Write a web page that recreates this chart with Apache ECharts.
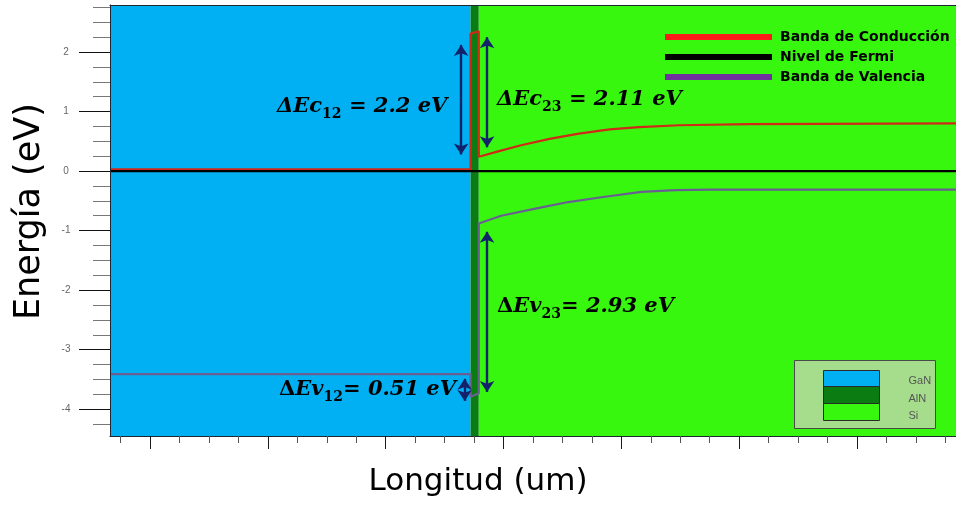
<!DOCTYPE html>
<html>
<head>
<meta charset="utf-8">
<title>Diagrama de bandas GaN / AlN / Si</title>
<script src="https://cdn.jsdelivr.net/npm/echarts@6/dist/echarts.min.js"></script>
<style>
  html, body { margin: 0; padding: 0; background: #fff; }
  #chart { width: 956px; height: 506px; }
</style>
</head>
<body>
<div id="chart"></div>
<script>
// eje x (um) sin etiquetas en el original
var xMin = -0.34, xMax = 6.84;
var xMajor = [0, 1, 2, 3, 4, 5, 6];
var xMinor = [-0.25, 0.25, 0.5, 0.75, 1.25, 1.5, 1.75, 2.25, 2.5, 2.75, 3.25, 3.5, 3.75,
              4.25, 4.5, 4.75, 5.25, 5.5, 5.75, 6.25, 6.5, 6.75];
// eje y (eV)
var yMin = -4.45, yMax = 2.79;
var yMajor = [-4, -3, -2, -1, 0, 1, 2];
var yMinor = [-4.25, -3.75, -3.5, -3.25, -2.75, -2.5, -2.25, -1.75, -1.5, -1.25,
              -0.75, -0.5, -0.25, 0.25, 0.5, 0.75, 1.25, 1.5, 1.75, 2.25, 2.5, 2.75];

// capas
var capas = ['GaN', 'AlN', 'Si'];
var capaInicio = [xMin, 2.72, 2.79];
var capaFin = [2.72, 2.79, xMax];
var capaColor = ['#00b0f2', '#0b7c12', '#38f70e'];

// banda de conduccion
var condX = [xMin, 2.72, 2.72, 2.79, 2.79, 2.97, 3.14, 3.39, 3.64, 3.90, 4.15, 4.49, 5.09, xMax];
var condE = [0.03, 0.03, 2.31, 2.35, 0.24, 0.34, 0.43, 0.54, 0.63, 0.70, 0.74, 0.77, 0.79, 0.80];
// nivel de Fermi
var fermiX = [xMin, xMax];
var fermiE = [0, 0];
// banda de valencia
var valX = [xMin, 2.72, 2.72, 2.79, 2.79, 2.98, 3.27, 3.55, 3.83, 4.17, 4.46, 4.75, xMax];
var valE = [-3.41, -3.41, -3.79, -3.73, -0.88, -0.75, -0.63, -0.52, -0.44, -0.35, -0.32, -0.31, -0.31];

// flechas de los saltos de banda
var flechaX = [2.64, 2.86, 2.86, 2.67];
var flechaArriba = [2.12, 2.25, -1.02, -3.49];
var flechaAbajo = [0.28, 0.40, -3.71, -3.86];

function pares(xs, ys) {
  return xs.map(function (x, i) { return [x, ys[i]]; });
}

var chart = echarts.init(document.getElementById('chart'));

var areas = capas.map(function (c, i) {
  return [{ name: c, xAxis: capaInicio[i], itemStyle: { color: capaColor[i], opacity: 1 } },
          { xAxis: capaFin[i] }];
});
var flechas = flechaX.map(function (x, i) {
  return [{ coord: [x, flechaArriba[i]] }, { coord: [x, flechaAbajo[i]] }];
});

var ejeBase = {
  type: 'value', min: xMin, max: xMax, z: 6,
  splitLine: { show: false },
  axisLabel: { show: false }
};
var ejeYBase = {
  type: 'value', min: yMin, max: yMax, position: 'left', z: 6,
  splitLine: { show: false }
};

var tinta = '#0a0a0a';
var rich = {
  i: { fontFamily: 'DejaVu Serif', fontWeight: 'bold', fontStyle: 'italic', fontSize: 21, lineHeight: 30, color: tinta },
  n: { fontFamily: 'DejaVu Serif', fontWeight: 'bold', fontSize: 21, lineHeight: 30, color: tinta },
  s: { fontFamily: 'DejaVu Serif', fontWeight: 'bold', fontSize: 14, lineHeight: 30, verticalAlign: 'bottom', color: tinta }
};

var option = {
  animation: false,
  backgroundColor: '#ffffff',
  grid: { left: 110, top: 5, right: 0, bottom: 70 },
  legend: {
    orient: 'vertical', left: 660, top: 25,
    icon: 'rect', itemWidth: 107, itemHeight: 6, itemGap: 6,
    selectedMode: false,
    textStyle: { fontFamily: 'DejaVu Sans', fontWeight: 'bold', fontSize: 14, lineHeight: 14, color: '#000', padding: [0, 0, 0, 3] },
    data: [
      { name: 'Banda de Conducción', itemStyle: { color: '#ff1a1a' } },
      { name: 'Nivel de Fermi', itemStyle: { color: '#000000' } },
      { name: 'Banda de Valencia', itemStyle: { color: '#7030a0' } }
    ]
  },
  xAxis: [
    Object.assign({}, ejeBase, {
      position: 'bottom',
      axisLine: { onZero: false, lineStyle: { color: '#1d2733', width: 1 } },
      axisTick: { customValues: xMajor, length: 13, lineStyle: { color: '#1a1a1a' } }
    }),
    Object.assign({}, ejeBase, {
      position: 'bottom',
      axisLine: { onZero: false, show: false },
      axisTick: { customValues: xMinor, length: 7, lineStyle: { color: '#555' } }
    }),
    Object.assign({}, ejeBase, {
      position: 'top',
      axisLine: { onZero: false, lineStyle: { color: '#1d2733', width: 1 } },
      axisTick: { show: false }
    })
  ],
  yAxis: [
    Object.assign({}, ejeYBase, {
      axisLine: { onZero: false, lineStyle: { color: '#1d2733', width: 1 } },
      axisTick: { customValues: yMajor, length: 31, lineStyle: { color: '#111' } },
      axisLabel: { customValues: yMajor, margin: 44, align: 'center', fontFamily: 'Liberation Sans', fontSize: 10, color: '#666' }
    }),
    Object.assign({}, ejeYBase, {
      axisLine: { onZero: false, show: false },
      axisTick: { customValues: yMinor, length: 17, lineStyle: { color: '#777' } },
      axisLabel: { show: false }
    })
  ],
  series: [
    {
      name: 'capas', type: 'line', z: 1, silent: true,
      data: [[xMin, yMin]], showSymbol: false, lineStyle: { opacity: 0 },
      markArea: { silent: true, label: { show: false }, data: areas }
    },
    {
      name: 'Banda de Conducción', type: 'line', z: 3, showSymbol: false,
      color: '#cf2a18', lineStyle: { color: '#cf2a18', width: 2.2 },
      data: pares(condX, condE)
    },
    {
      name: 'Nivel de Fermi', type: 'line', z: 3, showSymbol: false,
      color: '#000', lineStyle: { color: '#000', width: 2.2 },
      data: pares(fermiX, fermiE)
    },
    {
      name: 'Banda de Valencia', type: 'line', z: 3, showSymbol: false,
      color: '#6a5f92', lineStyle: { color: '#6a5f92', width: 2.2 },
      data: pares(valX, valE)
    },
    {
      name: 'flechas', type: 'line', z: 4, silent: true,
      data: [[xMin, yMin]], showSymbol: false, lineStyle: { opacity: 0 },
      markLine: {
        silent: true, symbol: ['arrow', 'arrow'], symbolSize: 11,
        label: { show: false },
        lineStyle: { color: '#13236b', width: 2.4, type: 'solid' },
        data: flechas
      }
    }
  ],
  graphic: [
    // titulos de los ejes
    { type: 'text', left: 'center', top: 466, z: 10, style: { text: 'Longitud (um)', fontFamily: 'DejaVu Sans', fontSize: 31, fill: '#000' }, x: -13 },
    { type: 'text', z: 10, x: 12, y: 320, rotation: Math.PI / 2,
      style: { text: 'Energía (eV)', fontFamily: 'DejaVu Sans', fontSize: 35, fill: '#000' } },
    // anotaciones
    { type: 'text', left: 277, top: 96, z: 10, style: { text: '{i|ΔEc}{s|12}{i| = 2.2 eV}', rich: rich } },
    { type: 'text', left: 497, top: 89, z: 10, style: { text: '{i|ΔEc}{s|23}{i| = 2.11 eV}', rich: rich } },
    { type: 'text', left: 497, top: 296, z: 10, style: { text: '{n|Δ}{i|Ev}{s|23}{i|= 2.93 eV}', rich: rich } },
    { type: 'text', left: 279, top: 379, z: 10, style: { text: '{n|Δ}{i|Ev}{s|12}{i|= 0.51 eV}', rich: rich } },
    // leyenda de capas
    { type: 'group', left: 794, top: 360, z: 10, children: [
      { type: 'rect', z: 10, shape: { x: 0, y: 0, width: 141, height: 68 }, style: { fill: '#a6dd8c', stroke: '#4a4a4a', lineWidth: 1 } },
      { type: 'rect', z: 11, shape: { x: 29, y: 10, width: 56, height: 16 }, style: { fill: capaColor[0], stroke: '#2a2a2a', lineWidth: 1 } },
      { type: 'rect', z: 11, shape: { x: 29, y: 26, width: 56, height: 17 }, style: { fill: capaColor[1], stroke: '#2a2a2a', lineWidth: 1 } },
      { type: 'rect', z: 11, shape: { x: 29, y: 43, width: 56, height: 17 }, style: { fill: capaColor[2], stroke: '#2a2a2a', lineWidth: 1 } },
      { type: 'text', z: 11, x: 114, y: 20, style: { text: 'GaN', fontFamily: 'Liberation Sans', fontSize: 11, fill: '#555', verticalAlign: 'middle' } },
      { type: 'text', z: 11, x: 114, y: 38, style: { text: 'AlN', fontFamily: 'Liberation Sans', fontSize: 11, fill: '#555', verticalAlign: 'middle' } },
      { type: 'text', z: 11, x: 114, y: 55, style: { text: 'Si', fontFamily: 'Liberation Sans', fontSize: 11, fill: '#555', verticalAlign: 'middle' } }
    ] }
  ]
};

chart.setOption(option);
window.onresize = chart.resize;
</script>
</body>
</html>
